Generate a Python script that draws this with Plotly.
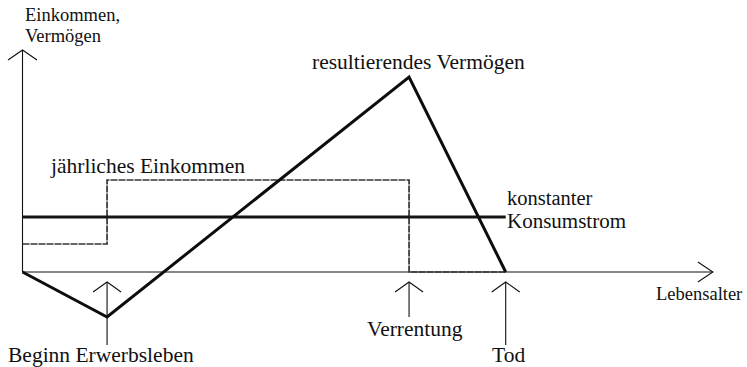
import plotly.graph_objects as go

# ---- data (conceptual units) ----
ages = [0, 14, 64, 80]                 # Geburt, Beginn Erwerbsleben, Verrentung, Tod
income = [2.8, 9.2, 0.0, 0.0]          # jährliches Einkommen (step, hv)
consumption_ages = [0, 80]
consumption = [5.5, 5.5]               # konstanter Konsumstrom
wealth = [0.0, -4.5, 19.5, 0.0]        # resultierendes Vermögen
event_labels = ["Beginn Erwerbsleben", "Verrentung", "Tod"]
event_ages = [14, 64, 80]
event_arrow_bottom = [-7.3, -4.5, -7.3]
x_axis_end = 114.3
y_axis_end = 22.2

# ---- styling / geometry ----
PX_X = 6.04      # px per year
PX_Y = 10.0      # px per unit
W, H = 747, 367
X0_PX, Y0_PX = 22.5, 272
FONT = "Liberation Serif, Times New Roman, serif"
INK = "#111111"

def dx(px):
    return px / PX_X

def dy(px):
    return px / PX_Y

fig = go.Figure()

def seg(xs, ys, width=1.2, color=INK, dash="solid"):
    fig.add_trace(go.Scatter(x=xs, y=ys, mode="lines", hoverinfo="skip",
                             line=dict(color=color, width=width, dash=dash),
                             showlegend=False))

# axes
seg([0, x_axis_end], [0, 0], 1.1)
seg([0, 0], [0, y_axis_end], 1.1)
# axis chevrons
seg([-dx(14.5), 0, dx(14.5)], [y_axis_end - dy(10), y_axis_end, y_axis_end - dy(10)], 1.1)
seg([x_axis_end - dx(15), x_axis_end, x_axis_end - dx(15)], [dy(10), 0, -dy(10)], 1.1)

# income (finely dashed dark grey)
fig.add_trace(go.Scatter(x=ages, y=income, mode="lines", line_shape="hv", hoverinfo="skip",
                         line=dict(color="#333333", width=1.7, dash="7px,1px"),
                         showlegend=False))
# consumption
seg(consumption_ages, consumption, 2.8, "#151515")
# wealth
seg(ages, wealth, 3.0, "#0d0d0d")

# event arrows
tip = -dy(10)
for a, b in zip(event_ages, event_arrow_bottom):
    seg([a, a], [tip, b], 1.1)
    seg([a - dx(14), a, a + dx(14)], [tip - dy(10), tip, tip - dy(10)], 1.1)

annotations = []

def txt(text, x, y, size=21.5, xanchor="center"):
    annotations.append(dict(text=text, x=x, y=y, xref="x", yref="y", showarrow=False,
                            xanchor=xanchor, yanchor="middle",
                            font=dict(family=FONT, size=size, color=INK)))

txt("Einkommen,", 0, 25.75, 18.5, "left")
txt("Vermögen", 0, 23.65, 18.5, "left")
txt("resultierendes Vermögen", 65.6, 21.0)
txt("jährliches Einkommen", 4.3, 10.65, 21.5, "left")
txt("konstanter", 79.9, 7.4, 20.5, "left")
txt("Konsumstrom", 79.9, 5.1, 21.0, "left")
txt("Lebensalter", 104.6, -2.2, 18.5, "left")
txt(event_labels[0], 13.0, -8.25)
txt(event_labels[1], 65.0, -5.65)
txt(event_labels[2], 80.4, -8.25)

fig.update_layout(
    width=W, height=H,
    margin=dict(l=0, r=0, t=0, b=0),
    paper_bgcolor="white", plot_bgcolor="white",
    xaxis=dict(range=[-dx(X0_PX), dx(W - X0_PX)], visible=False, fixedrange=True),
    yaxis=dict(range=[-dy(H - Y0_PX), dy(Y0_PX)], visible=False, fixedrange=True),
    annotations=annotations,
)

fig.write_html("out.html", post_script="document.body.style.margin='0px';",
               config={"displayModeBar": False})
